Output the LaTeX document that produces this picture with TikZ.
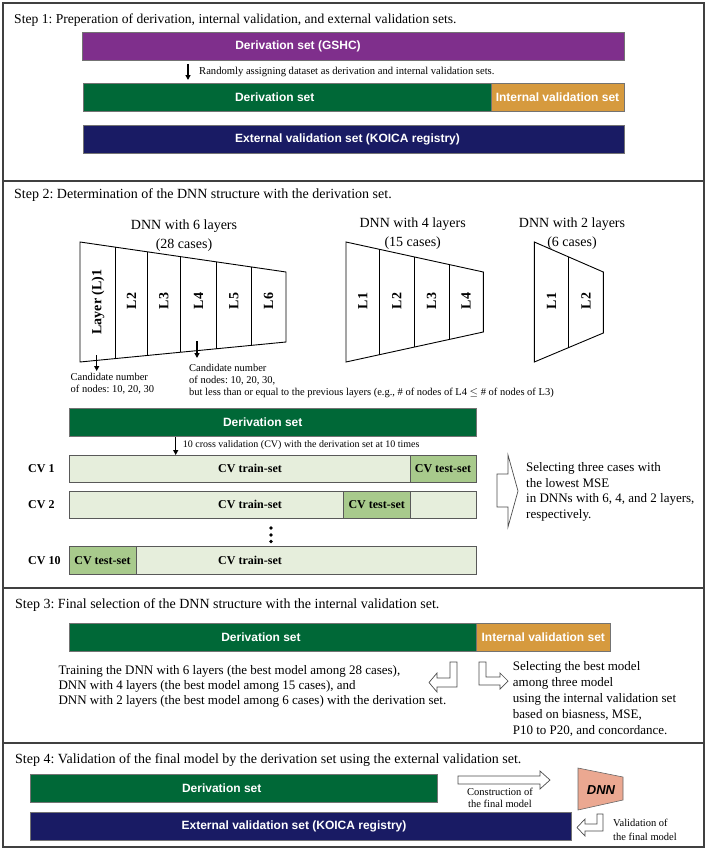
\documentclass[tikz,border=0pt]{standalone}
\usepackage{fontspec}
\setmainfont{Liberation Serif}
\setsansfont{Liberation Sans}
\frenchspacing
\usetikzlibrary{arrows.meta, calc}
\definecolor{cpurple}{HTML}{7F2F8C}
\definecolor{cgreen}{HTML}{006837}
\definecolor{corange}{HTML}{D69A3E}
\definecolor{cnavy}{HTML}{191B64}
\definecolor{cvlight}{HTML}{E6EEDC}
\definecolor{cvtest}{HTML}{A8CA8C}
\definecolor{csalmon}{HTML}{EBA891}
\tikzset{
  frame/.style={draw=black!75, line width=1.4pt},
  bar/.style={draw=black!55, line width=0.6pt, fill=#1, minimum height=28pt, inner sep=0pt},
  bartext/.style={text=white, inner sep=0pt, font=\sffamily\bfseries\fontsize{12}{14}\selectfont},
  cvbar/.style={draw=black!65, line width=0.8pt, fill=#1, minimum height=27.3pt, inner sep=0pt, font=\bfseries\fontsize{12}{14}\selectfont},
  cvtext/.style={inner sep=0pt, font=\bfseries\fontsize{12}{14}\selectfont},
  title/.style={anchor=west, inner sep=0pt, font=\fontsize{14}{16}\selectfont},
  note/.style={anchor=north west, align=left, inner sep=0pt, font=\fontsize{13}{15.8}\selectfont},
  remark/.style={align=left, inner sep=0pt, font=\fontsize{10.5}{12}\selectfont},
  dnntitle/.style={align=center, inner sep=0pt, font=\fontsize{14}{18.5}\selectfont},
  layerlab/.style={rotate=90, inner sep=0pt, font=\bfseries\fontsize{14}{16}\selectfont},
  net/.style={draw=black, line width=0.9pt},
  darrow/.style={-{Triangle[length=5pt, width=5pt]}, line width=1.3pt},
  hollow/.style={draw=black!70, fill=white, line width=0.7pt},
}

\begin{document}
\begin{tikzpicture}[x=1pt, y=-1pt]
  \useasboundingbox (0,0) rectangle (708,851);
  \draw[frame] (3,3) rectangle (704,847);
  \draw[frame] (3,181) -- (704,181);
  \draw[frame] (3,588) -- (704,588);
  \draw[frame] (3,743) -- (704,743);

  % Step 1
  \node[title, font=\fontsize{13.6}{16}\selectfont] (s1) at (14,20) {Step 1: Preperation of derivation, internal validation, and external validation sets.};
  \node[bar=cpurple, minimum width=542pt] (gshc) at (353,46) {};
  \node[bartext] (gshct) at (298,46) {Derivation set (GSHC)};
  \coordinate (a1s) at (188,64);
  \coordinate (a1e) at (188,80);
  \draw[darrow] (a1s) -- (a1e);
  \node[remark, anchor=west, font=\fontsize{10.6}{12}\selectfont] (rand) at (199,72) {Randomly assigning dataset as derivation and internal validation sets.};
  \node[bar=cgreen, minimum width=408pt] (der1) at (287,97) {};
  \node[bartext] (der1t) at (274.7,97) {Derivation set};
  \node[bar=corange, minimum width=133pt, bartext] (int1) at (557.5,97) {Internal validation set};
  \node[bar=cnavy, minimum width=541pt] (ext1) at (353.5,139.5) {};
  \node[bartext] (ext1t) at (347.5,139.5) {External validation set (KOICA registry)};

  % Step 2
  \node[title] (s2) at (14,195) {Step 2: Determination of the DNN structure with the derivation set.};
  \node[dnntitle] (dnn6) at (184,235.5) {DNN with 6 layers\\(28 cases)};
  \node[dnntitle] (dnn4) at (412.7,233.5) {DNN with 4 layers\\(15 cases)};
  \node[dnntitle] (dnn2) at (572,233.5) {DNN with 2 layers\\(6 cases)};

  \coordinate (t6a) at (80,242);    \coordinate (t6b) at (286,272);
  \coordinate (b6a) at (80,362);    \coordinate (b6b) at (286,342);
  \draw[net] (t6a) -- (t6b) -- (b6b) -- (b6a) -- cycle;
  \foreach \f in {0.173,0.327,0.487,0.664,0.830}
    \draw[net] ($(t6a)!\f!(t6b)$) -- ($(b6a)!\f!(b6b)$);
  \node[layerlab] (l61) at (98,302) {Layer (L)1};
  \foreach \x/\n in {131.5/2,163.8/3,198.5/4,233.9/5,268.5/6}
    \node[layerlab] (l6\n) at (\x,301) {L\n};

  \coordinate (t4a) at (346,242);   \coordinate (t4b) at (483.3,272);
  \coordinate (b4a) at (346,362);   \coordinate (b4b) at (483.3,332);
  \draw[net] (t4a) -- (t4b) -- (b4b) -- (b4a) -- cycle;
  \foreach \f in {0.2425,0.495,0.75}
    \draw[net] ($(t4a)!\f!(t4b)$) -- ($(b4a)!\f!(b4b)$);
  \foreach \x/\n in {362.7/1,396.7/2,431.5/3,466/4}
    \node[layerlab] (l4\n) at (\x,301) {L\n};

  \coordinate (t2a) at (534.3,242); \coordinate (t2b) at (603.3,272);
  \coordinate (b2a) at (534.3,362); \coordinate (b2b) at (603.3,333);
  \draw[net] (t2a) -- (t2b) -- (b2b) -- (b2a) -- cycle;
  \draw[net] ($(t2a)!0.5!(t2b)$) -- ($(b2a)!0.5!(b2b)$);
  \foreach \x/\n in {551.5/1,586/2}
    \node[layerlab] (l2\n) at (\x,301) {L\n};

  \coordinate (a2s) at (96.7,355);
  \coordinate (a2e) at (96.7,371);
  \draw[darrow] (a2s) -- (a2e);
  \node[remark, anchor=north west] (cand1) at (70.5,373) {Candidate number\\of nodes: 10, 20, 30};
  \coordinate (a3s) at (197,341);
  \coordinate (a3e) at (197,358);
  \draw[darrow] (a3s) -- (a3e);
  \node[remark, anchor=north west] (cand2) at (189,364) {Candidate number\\of nodes: 10, 20, 30,\\but less than or equal to the previous layers (e.g., \# of nodes of L4 $\leq$ \# of nodes of L3)};

  \node[bar=cgreen, minimum width=407pt, minimum height=28.4pt] (der2) at (272.5,422.5) {};
  \node[bartext] (der2t) at (262.7,422.5) {Derivation set};
  \coordinate (a4s) at (175.7,437);
  \coordinate (a4e) at (175.7,455);
  \draw[darrow] (a4s) -- (a4e);
  \node[remark, anchor=west, font=\fontsize{10}{12}\selectfont] (tencv) at (182.7,445) {10 cross validation (CV) with the derivation set at 10 times};

  \node[cvtext, anchor=west] (cv1l) at (28,468.7) {CV 1};
  \node[cvbar=cvlight, minimum width=407pt] (cv1) at (272.5,468.7) {};
  \node[cvbar=cvtest, minimum width=66pt] (cv1t) at (443,468.7) {CV test-set};
  \node[cvtext] (cv1r) at (250,468.7) {CV train-set};
  \node[cvtext, anchor=west] (cv2l) at (28,504.7) {CV 2};
  \node[cvbar=cvlight, minimum width=407pt] (cv2) at (272.5,504.7) {};
  \node[cvbar=cvtest, minimum width=66.7pt] (cv2t) at (376.7,504.7) {CV test-set};
  \node[cvtext] (cv2r) at (250,504.7) {CV train-set};
  \foreach \y in {528,535,541.5}
    \fill (271,\y) circle (1.8pt);
  \node[cvtext, anchor=west] (cv10l) at (28,560.3) {CV 10};
  \node[cvbar=cvlight, minimum width=407pt] (cv10) at (272.5,560.3) {};
  \node[cvbar=cvtest, minimum width=67pt] (cv10t) at (102.5,560.3) {CV test-set};
  \node[cvtext] (cv10r) at (250,560.3) {CV train-set};

  \draw[hollow] (497,474) -- (508,474) -- (508,455) -- (518,491) -- (508,527) -- (508,507) -- (497,507) -- cycle;
  \node[note] (sel3) at (526,462) {Selecting three cases with\\the lowest MSE\\in DNNs with 6, 4, and 2 layers,\\respectively.};

  % Step 3
  \node[title] (s3) at (15,605) {Step 3: Final selection of the DNN structure with the internal validation set.};
  \node[bar=cgreen, minimum width=407.7pt] (der3) at (272.8,637) {};
  \node[bartext] (der3t) at (261,637) {Derivation set};
  \node[bar=corange, minimum width=133.3pt, bartext] (int3) at (543.3,637) {Internal validation set};
  \node[note, font=\fontsize{13}{15}\selectfont] (train) at (58.3,665.5) {Training the DNN with 6 layers (the best model among 28 cases),\\DNN with 4 layers (the best model among 15 cases), and\\DNN with 2 layers (the best model among 6 cases) with the derivation set.};
  \draw[hollow] (450,662) -- (457,662) -- (457,687) -- (437,687) -- (437,692) -- (429,682.5) -- (437,673) -- (437,678) -- (450,678) -- cycle;
  \draw[hollow] (479,662) -- (486,662) -- (486,677) -- (500,677) -- (500,673) -- (508,681) -- (500,689) -- (500,685) -- (479,685) -- cycle;
  \node[note, font=\fontsize{13}{16}\selectfont] (best) at (512.7,661) {Selecting the best model\\among three model\\using the internal validation set\\based on biasness, MSE,\\P10 to P20, and concordance.};

  % Step 4
  \node[title] (s4) at (15,760) {Step 4: Validation of the final model by the derivation set using the external validation set.};
  \node[bar=cgreen, minimum width=407.3pt, minimum height=27.7pt] (der4) at (233.7,788.2) {};
  \node[bartext] (der4t) at (221.7,788.2) {Derivation set};
  \node[bar=cnavy, minimum width=541.7pt, minimum height=27.3pt] (ext4) at (300.8,826.3) {};
  \node[bartext] (ext4t) at (294,826.3) {External validation set (KOICA registry)};
  \draw[hollow] (458,776) -- (540,776) -- (540,771) -- (550,780) -- (540,789) -- (540,784) -- (458,784) -- cycle;
  \node[remark, align=center] (constr) at (500,798) {Construction of\\the final model};
  \draw[draw=black!60, fill=csalmon, line width=0.6pt] (578,768) -- (623,777) -- (623,800) -- (578,810) -- cycle;
  \node[inner sep=0pt, font=\sffamily\bfseries\itshape\fontsize{13}{15}\selectfont] (dnn) at (601,790) {DNN};
  \draw[hollow] (597,814) -- (603,814) -- (603,831) -- (585,831) -- (585,836) -- (577,827.5) -- (585,819) -- (585,824) -- (597,824) -- cycle;
  \node[remark, anchor=west, font=\fontsize{10.5}{14}\selectfont] (valid) at (613,829.7) {Validation of\\the final model};
\end{tikzpicture}
\end{document}
